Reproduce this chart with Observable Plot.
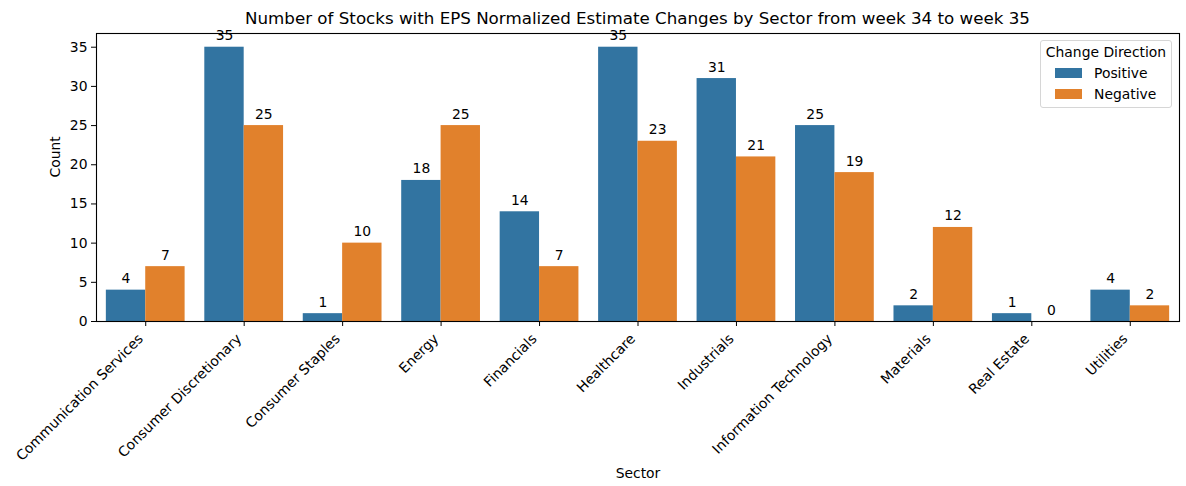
<!DOCTYPE html>
<html>
<head>
<meta charset="utf-8">
<script src="https://cdn.jsdelivr.net/npm/d3@7"></script>
<script src="https://cdn.jsdelivr.net/npm/@observablehq/plot@0.6"></script>
<style>
  body { margin: 0; background: #fff; font-family: "DejaVu Sans", sans-serif; }
  #wrap { position: relative; width: 1186px; height: 486px; }
  #title { position: absolute; left: 96px; width: 1083px; top: 8px; text-align: center; font-size: 16.7px; color: #000; white-space: nowrap; }
  #chart { position: absolute; left: 0; top: 0; }
  #legend { position: absolute; left: 1040px; top: 40px; width: 130px; height: 66px; border: 1px solid #d6d6d6; border-radius: 3px; background: rgba(255,255,255,0.8); font-size: 13.9px; color: #000; }
  #legend .t { position: absolute; top: 3px; width: 100%; text-align: center; }
  #legend .e { position: absolute; left: 14px; height: 20px; line-height: 20px; }
  #legend .sw { display: inline-block; width: 27px; height: 10px; vertical-align: middle; margin-right: 12px; position: relative; top: -1px; }
</style>
</head>
<body>
<div id="wrap">
  <div id="chart"></div>
  <div id="title">Number of Stocks with EPS Normalized Estimate Changes by Sector from week 34 to week 35</div>
  <div id="legend"></div>
</div>
<script>
const sectors = ["Communication Services", "Consumer Discretionary", "Consumer Staples", "Energy", "Financials", "Healthcare", "Industrials", "Information Technology", "Materials", "Real Estate", "Utilities"];
const positive = [4, 35, 1, 18, 14, 35, 31, 25, 2, 1, 4];
const negative = [7, 25, 10, 25, 7, 23, 21, 19, 12, 0, 2];
const directions = ["Positive", "Negative"];
const colors = ["#3274a1", "#e1812c"];
const yTicks = [0, 5, 10, 15, 20, 25, 30, 35];

const rows = [];
sectors.forEach((s, i) => {
  rows.push({sector: s, idx: i, dir: "Positive", j: 0, count: positive[i]});
  rows.push({sector: s, idx: i, dir: "Negative", j: 1, count: negative[i]});
});
const barW = 0.4;

const chart = Plot.plot({
  width: 1186,
  height: 486,
  marginTop: 33,
  marginBottom: 165,
  marginLeft: 96,
  marginRight: 7,
  style: {fontFamily: "DejaVu Sans", fontSize: "13.9px", color: "#000", background: "white"},
  x: {type: "linear", domain: [-0.5, sectors.length - 0.5], label: null},
  y: {domain: [0, 36.75], label: null},
  color: {domain: directions, range: colors},
  marks: [
    Plot.rectY(rows, {
      x1: d => d.idx - 0.4 + d.j * barW,
      x2: d => d.idx - 0.4 + (d.j + 1) * barW,
      y1: 0,
      y2: "count",
      fill: "dir"
    }),
    Plot.text(rows, {
      x: d => d.idx - 0.4 + (d.j + 0.5) * barW,
      y: "count",
      text: d => String(d.count),
      lineAnchor: "bottom",
      dy: -7,
      fill: "#000",
      fontSize: 13.9
    }),
    Plot.axisY({ticks: yTicks, tickSize: 5, tickPadding: 4, label: null}),
    Plot.axisX({
      ticks: d3.range(sectors.length),
      tickFormat: () => "",
      tickSize: 5,
      label: null
    }),
    Plot.axisX({
      ticks: d3.range(sectors.length),
      tickFormat: i => sectors[i],
      tickSize: 0,
      tickPadding: 9,
      tickRotate: -45,
      dx: -5,
      dy: 6,
      label: null
    }),
    Plot.text(["Count"], {frameAnchor: "left", dx: -41, rotate: -90, fontSize: 13.9, fill: "#000"}),
    Plot.text(["Sector"], {frameAnchor: "bottom", dy: 156, fontSize: 13.9, fill: "#000"}),
    Plot.frame({stroke: "#000", strokeWidth: 1.1})
  ]
});
document.getElementById("chart").appendChild(chart);

const leg = document.getElementById("legend");
leg.innerHTML = '<div class="t">Change Direction</div>' +
  directions.map((d, k) => `<div class="e" style="top:${22 + k * 21}px"><span class="sw" style="background:${colors[k]}"></span>${d}</div>`).join("");
</script>
</body>
</html>
